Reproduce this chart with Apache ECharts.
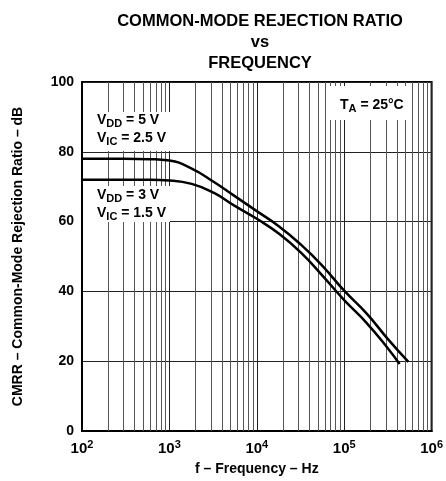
<!DOCTYPE html>
<html>
<head>
<meta charset="utf-8">
<script src="https://cdn.jsdelivr.net/npm/echarts@6/dist/echarts.min.js"></script>
<style>
  html, body { margin: 0; padding: 0; background: #fff; }
  #chart { width: 446px; height: 481px; }
</style>
</head>
<body>
<div id="chart"></div>
<script>
// VDD = 5 V, VIC = 2.5 V
var freq5V = [100, 300, 600, 1000, 1800, 3200, 5600, 10000, 18000, 32000, 56000, 100000, 180000, 320000, 543000];
var cmrr5V = [78, 78, 77.9, 77.5, 75.2, 71.4, 67.3, 63, 58.6, 53.4, 47.4, 40.2, 33.7, 26.2, 19.8];
// VDD = 3 V, VIC = 1.5 V
var freq3V = [100, 300, 600, 1000, 1800, 3200, 5600, 10000, 18000, 32000, 56000, 100000, 180000, 320000, 430000];
var cmrr3V = [72, 72, 72, 71.8, 70.8, 68.3, 64.5, 60.8, 56.5, 51.1, 44.6, 37.5, 31, 23.5, 19.2];

var yTicks = [0, 20, 40, 60, 80, 100];
var minorFreqs = [];
[100, 1000, 10000, 100000].forEach(function (d) {
  for (var k = 2; k <= 9; k++) minorFreqs.push(k * d);
});

var font = 'Liberation Sans, Arial, sans-serif';
var chart = echarts.init(document.getElementById('chart'));

function pairs (xs, ys) {
  return xs.map(function (x, i) { return [x, ys[i]]; });
}

var bold = { fontFamily: font, fontWeight: 'bold', fontSize: 14, color: '#000' };
var sub = { fontFamily: font, fontWeight: 'bold', fontSize: 11, color: '#000', padding: [7, 0, 0, 0] };

function label (x, y, txt) {
  return {
    type: 'text', left: x, top: y, z: 101,
    style: { text: txt, rich: { v: bold, s: sub }, fill: '#000' }
  };
}

var option = {
  animation: false,
  backgroundColor: '#fff',
  title: {
    text: 'COMMON-MODE REJECTION RATIO\nvs\nFREQUENCY',
    left: 255, top: 6, textAlign: 'center',
    textStyle: { fontFamily: font, fontWeight: 'bold', fontSize: 16.5, lineHeight: 21, color: '#000' }
  },
  grid: { left: 82, top: 82, width: 352, height: 353, show: true, borderColor: '#000', borderWidth: 2, backgroundColor: 'transparent' },
  xAxis: {
    type: 'log', logBase: 10, min: 100, max: 1000000,
    name: 'f \u2013 Frequency \u2013 Hz', nameLocation: 'middle', nameGap: 31,
    nameTextStyle: { fontFamily: font, fontWeight: 'bold', fontSize: 14, color: '#000' },
    axisLine: { lineStyle: { color: '#000', width: 2 } },
    axisTick: { show: false },
    splitLine: { show: true, lineStyle: { color: '#222', width: 1 } },
    axisLabel: {
      margin: 8,
      formatter: function (v) { return '{b|10}{p|' + Math.round(Math.log10(v)) + '}'; },
      rich: {
        b: { fontFamily: font, fontWeight: 'bold', fontSize: 15, color: '#000' },
        p: { fontFamily: font, fontWeight: 'bold', fontSize: 11, color: '#000', padding: [0, 0, 9, 0] }
      }
    }
  },
  yAxis: {
    type: 'value', min: 0, max: 100, interval: 20,
    name: 'CMRR \u2013 Common-Mode Rejection Ratio \u2013 dB', nameLocation: 'middle', nameGap: 57,
    nameTextStyle: { fontFamily: font, fontWeight: 'bold', fontSize: 14, color: '#000' },
    axisLine: { show: true, lineStyle: { color: '#000', width: 2 } },
    axisTick: { show: false },
    splitLine: { show: true, lineStyle: { color: '#222', width: 1 } },
    axisLabel: { margin: 8, fontFamily: font, fontWeight: 'bold', fontSize: 14, color: '#000',
      formatter: function (v) { return yTicks.indexOf(v) >= 0 ? String(v) : ''; } }
  },
  series: [
    {
      type: 'line', name: 'minor', data: [], silent: true,
      markLine: {
        silent: true, symbol: 'none', label: { show: false },
        lineStyle: { color: '#555', width: 1, type: 'solid' },
        data: minorFreqs.map(function (f) { return { xAxis: f }; })
      }
    },
    {
      type: 'line', name: 'VDD = 5 V', data: pairs(freq5V, cmrr5V), smooth: 0.5,
      showSymbol: false, lineStyle: { color: '#000', width: 2.5 }, z: 5
    },
    {
      type: 'line', name: 'VDD = 3 V', data: pairs(freq3V, cmrr3V), smooth: 0.5,
      showSymbol: false, lineStyle: { color: '#000', width: 2.5 }, z: 5
    }
  ],
  graphic: [
    { type: 'rect', z: 100, shape: { x: 83, y: 112, width: 87, height: 39 }, style: { fill: '#fff' } },
    { type: 'rect', z: 100, shape: { x: 83, y: 186, width: 87, height: 36 }, style: { fill: '#fff' } },
    { type: 'rect', z: 100, shape: { x: 330, y: 86, width: 80, height: 34 }, style: { fill: '#fff' } },
    label(97, 113, '{v|V}{s|DD}{v| = 5 V}'),
    label(97, 131, '{v|V}{s|IC}{v| = 2.5 V}'),
    label(97, 188, '{v|V}{s|DD}{v| = 3 V}'),
    label(97, 206, '{v|V}{s|IC}{v| = 1.5 V}'),
    label(340, 98, '{v|T}{s|A}{v| = 25\u00b0C}')
  ]
};
chart.setOption(option);
</script>
</body>
</html>
